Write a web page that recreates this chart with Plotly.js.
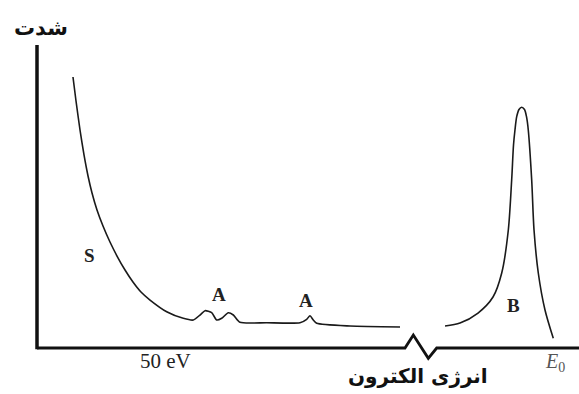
<!DOCTYPE html>
<html>
<head>
<meta charset="utf-8">
<script src="https://cdn.plot.ly/plotly-3.0.1.min.js"></script>
<style>
  html, body { margin: 0; padding: 0; background: #ffffff; }
  #chart { width: 579px; height: 394px; }
</style>
</head>
<body>
<div id="chart"></div>
<script>
// ---- Data (arbitrary energy units on x, arbitrary intensity units on y) ----
// Secondary-electron tail (S) with Auger features (A)
var energyLow = [6.65, 7.21, 7.95, 8.69, 9.43, 10.17, 11.09, 12.20, 13.49, 14.79, 16.27, 17.74, 19.22,
                 20.89, 23.97, 27.04, 28.89,
                 30.13, 31.05, 32.29, 33.22, 34.14, 35.36, 36.29, 37.52, 42.46, 48.61, 49.85, 50.46,
                 51.07, 51.70, 57.86, 67.10];
var intensityLow = [89.44, 81.52, 71.95, 63.70, 56.77, 51.16, 45.54, 40.26, 34.98, 30.36, 25.74, 21.78, 18.48,
                    15.84, 11.98, 9.80, 9.24,
                    10.89, 12.31, 11.65, 9.24, 9.80, 11.65, 10.89, 8.48, 8.35, 8.35, 9.47, 10.66,
                    9.24, 8.15, 7.26, 6.93];
// Elastic peak (B) near E0
var energyHigh = [75.42, 78.19, 81.52, 84.29, 85.90, 87.12, 87.74, 88.08, 88.35, 88.67, 89.09, 89.59,
                  90.11, 90.48, 90.81, 91.44, 91.87, 92.66, 93.90, 95.43];
var intensityHigh = [7.26, 8.25, 11.55, 16.83, 24.75, 38.94, 55.45, 67.00, 71.95, 76.34, 78.71, 79.44,
                     78.71, 76.34, 71.95, 55.45, 38.94, 24.75, 12.54, 3.20];
// Axis frame with the break mark on the energy axis
var energyAxis = [0, 68.02, 69.56, 72.33, 73.88, 100.2];
var energyAxisLevel = [0, 0, 4.29, -3.40, 0, 0];
var intensityAxisX = [0, 0];
var intensityAxisY = [-0.45, 100];

// Labels
var labelTexts = ["S", "A", "A", "B"];
var labelX = [9.67, 33.64, 49.72, 87.99];
var labelY = [30.69, 17.82, 15.84, 14.19];
var yTitle = "شدت";
var xTitle = "انرژی الکترون";
var tickTexts = ["50 eV", "<i>E</i><sub>0</sub>"];
var tickX = [23.75, 95.75];
var tickY = [-4.4, -4.62];
var yTitleX = 0.65, yTitleY = 105.6;
var xTitleX = 70.43, xTitleY = -9.3;

// ---- Traces ----
var ink = "#1a1a1a";
var traces = [
  { x: energyLow, y: intensityLow, mode: "lines", line: { color: ink, width: 1.6, shape: "spline", smoothing: 0.6 }, hoverinfo: "skip" },
  { x: energyHigh, y: intensityHigh, mode: "lines", line: { color: ink, width: 1.6, shape: "spline", smoothing: 0.8 }, hoverinfo: "skip" },
  { x: energyAxis, y: energyAxisLevel, mode: "lines", line: { color: "#111", width: 2.8 }, hoverinfo: "skip" },
  { x: intensityAxisX, y: intensityAxisY, mode: "lines", line: { color: "#111", width: 3.5 }, hoverinfo: "skip" }
];

var annotations = [];
for (var i = 0; i < labelTexts.length; i++) {
  annotations.push({ x: labelX[i], y: labelY[i], xref: "x", yref: "y", text: labelTexts[i], showarrow: false,
    xanchor: "center", yanchor: "middle",
    font: { family: "Liberation Serif, serif", size: 19, color: "#222", weight: "bold" } });
}
for (var j = 0; j < tickTexts.length; j++) {
  annotations.push({ x: tickX[j], y: tickY[j], xref: "x", yref: "y", text: tickTexts[j], showarrow: false,
    xanchor: "center", yanchor: "middle",
    font: { family: "Liberation Serif, serif", size: j === 1 ? 20 : 21, color: j === 1 ? "#555" : "#222" } });
}
annotations.push({ x: yTitleX, y: yTitleY, xref: "x", yref: "y", text: yTitle, showarrow: false,
  xanchor: "center", yanchor: "middle",
  font: { family: "DejaVu Sans, sans-serif", size: 21, color: "#111", weight: "bold" } });
annotations.push({ x: xTitleX, y: xTitleY, xref: "x", yref: "y", text: xTitle, showarrow: false,
  xanchor: "center", yanchor: "middle",
  font: { family: "DejaVu Sans, sans-serif", size: 20, color: "#111", weight: "bold" } });

var layout = {
  width: 579, height: 394,
  margin: { l: 0, r: 0, t: 0, b: 0 },
  paper_bgcolor: "#ffffff", plot_bgcolor: "#ffffff",
  showlegend: false,
  xaxis: { range: [-6.839, 100.185], visible: false, fixedrange: true },
  yaxis: { range: [-15.18, 114.85], visible: false, fixedrange: true },
  annotations: annotations
};

Plotly.newPlot("chart", traces, layout, { staticPlot: true, displayModeBar: false });
</script>
</body>
</html>
